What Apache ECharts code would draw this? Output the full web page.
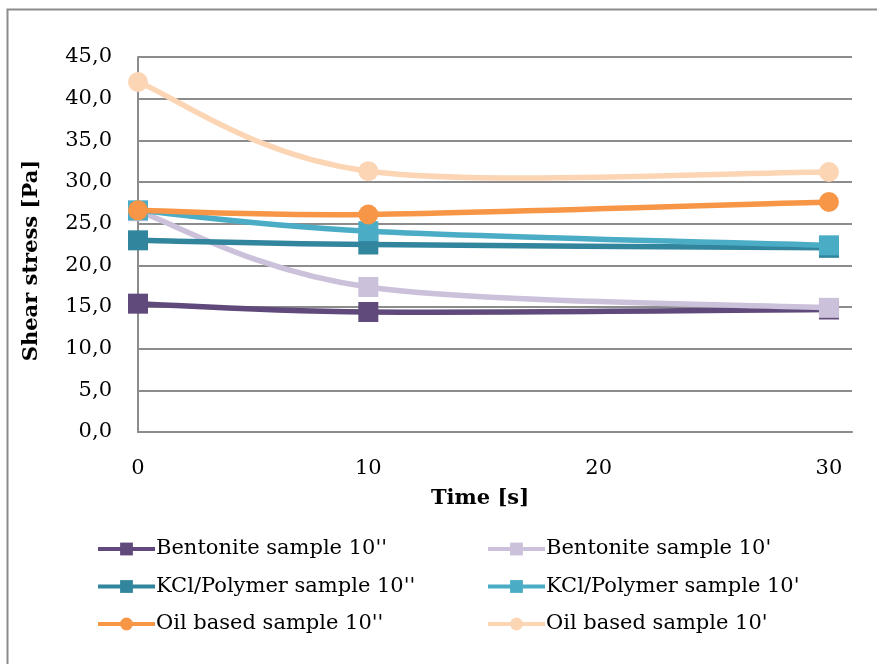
<!DOCTYPE html>
<html>
<head>
<meta charset="utf-8">
<script src="https://cdn.jsdelivr.net/npm/echarts@6/dist/echarts.min.js"></script>
<style>
  html, body { margin: 0; padding: 0; background: #fff; }
  #main { width: 877px; height: 664px; }
</style>
</head>
<body>
<div id="main"></div>
<script>
// time points and measured values
var times = [0, 10, 30];
var bentonite10s = [15.4, 14.4, 14.7];
var bentonite10m = [26.5, 17.4, 14.9];
var kcl10s = [23.0, 22.5, 22.1];
var kcl10m = [26.6, 24.1, 22.4];
var oil10s = [26.6, 26.1, 27.6];
var oil10m = [42.0, 31.3, 31.2];

var names = [
  "Bentonite sample 10''", "Bentonite sample 10'",
  "KCl/Polymer sample 10''", "KCl/Polymer sample 10'",
  "Oil based sample 10''", "Oil based sample 10'"
];
var values = [bentonite10s, bentonite10m, kcl10s, kcl10m, oil10s, oil10m];
var colors = ['#604A7B', '#CCC1DA', '#31859C', '#4BACC6', '#F79646', '#FCD5B5'];
var symbols = ['rect', 'rect', 'rect', 'rect', 'circle', 'circle'];

var font = 'DejaVu Serif';
var lineW = 5.5;

function pairs(ys) {
  return times.map(function (t, i) { return [t, ys[i]]; });
}

// excel-like smoothing: bezier segments with neighbour tangents (/6)
function curveRenderer(k) {
  return function (params, api) {
    var i = params.dataIndex;
    var n = times.length;
    if (i >= n - 1) return null;
    var pts = times.map(function (t, j) { return api.coord([t, values[k][j]]); });
    var p0 = pts[Math.max(i - 1, 0)], p1 = pts[i], p2 = pts[i + 1], p3 = pts[Math.min(i + 2, n - 1)];
    return {
      type: 'bezierCurve',
      shape: {
        x1: p1[0], y1: p1[1], x2: p2[0], y2: p2[1],
        cpx1: p1[0] + (p2[0] - p0[0]) / 6, cpy1: p1[1] + (p2[1] - p0[1]) / 6,
        cpx2: p2[0] - (p3[0] - p1[0]) / 6, cpy2: p2[1] - (p3[1] - p1[1]) / 6
      },
      style: { stroke: colors[k], lineWidth: lineW, fill: 'none', lineCap: 'round' }
    };
  };
}

var series = [];
// marker series (also give the legend its icons)
values.forEach(function (v, k) {
  series.push({
    name: names[k],
    type: 'line',
    data: pairs(v),
    symbol: symbols[k],
    symbolSize: 20,
    z: 3 + 2 * k,
    itemStyle: { color: colors[k] },
    lineStyle: { color: colors[k], width: lineW, opacity: 0 }
  });
});
// smoothed lines
values.forEach(function (v, k) {
  series.push({
    type: 'custom',
    data: pairs(v),
    encode: { x: 0, y: 1 },
    z: 2 + 2 * k,
    renderItem: curveRenderer(k)
  });
});

var myChart = echarts.init(document.getElementById('main'));

var legendBase = {
  orient: 'vertical',
  top: 533,
  itemWidth: 57,
  itemHeight: 16,
  itemGap: 15.5,
  lineStyle: { width: 4, opacity: 1 },
  textStyle: { fontFamily: font, fontSize: 21, lineHeight: 22, color: '#000', padding: [0, 0, 0, -4] }
};

var option = {
  animation: false,
  graphic: [{
    type: 'rect',
    shape: { x: 7.5, y: 9.5, width: 900, height: 700 },
    style: { fill: 'none', stroke: '#8c8c8c', lineWidth: 2 },
    silent: true
  }],
  grid: { left: 138, right: 25, top: 57, bottom: 232 },
  legend: [
    Object.assign({ left: 91, data: [names[0], names[2], names[4]] }, legendBase),
    Object.assign({ left: 481, data: [names[1], names[3], names[5]] }, legendBase)
  ],
  xAxis: {
    type: 'value',
    min: 0,
    max: 31,
    interval: 10,
    name: 'Time [s]',
    nameLocation: 'middle',
    nameGap: 56,
    nameTextStyle: { fontFamily: font, fontSize: 21, fontWeight: 'bold', color: '#000', padding: [0, 30, 0, 0] },
    axisLine: { lineStyle: { color: '#8c8c8c', width: 2 } },
    axisTick: { show: false },
    splitLine: { show: false },
    axisLabel: {
      fontFamily: font, fontSize: 21, color: '#000', margin: 26,
      showMaxLabel: false,
      formatter: function (v) { return v % 10 === 0 ? String(v) : ''; }
    }
  },
  yAxis: {
    type: 'value',
    min: 0,
    max: 45,
    interval: 5,
    name: 'Shear stress [Pa]',
    nameLocation: 'middle',
    nameGap: 96,
    nameRotate: 90,
    nameTextStyle: { fontFamily: font, fontSize: 21, fontWeight: 'bold', color: '#000', padding: [0, 32, 0, 0] },
    axisLine: { show: true, lineStyle: { color: '#8c8c8c', width: 2 } },
    axisTick: { show: false },
    splitLine: { lineStyle: { color: '#8c8c8c', width: 2 } },
    axisLabel: {
      fontFamily: font, fontSize: 21, color: '#000', margin: 26,
      formatter: function (v) { return v.toFixed(1).replace('.', ','); }
    }
  },
  series: series
};

myChart.setOption(option);
</script>
</body>
</html>
